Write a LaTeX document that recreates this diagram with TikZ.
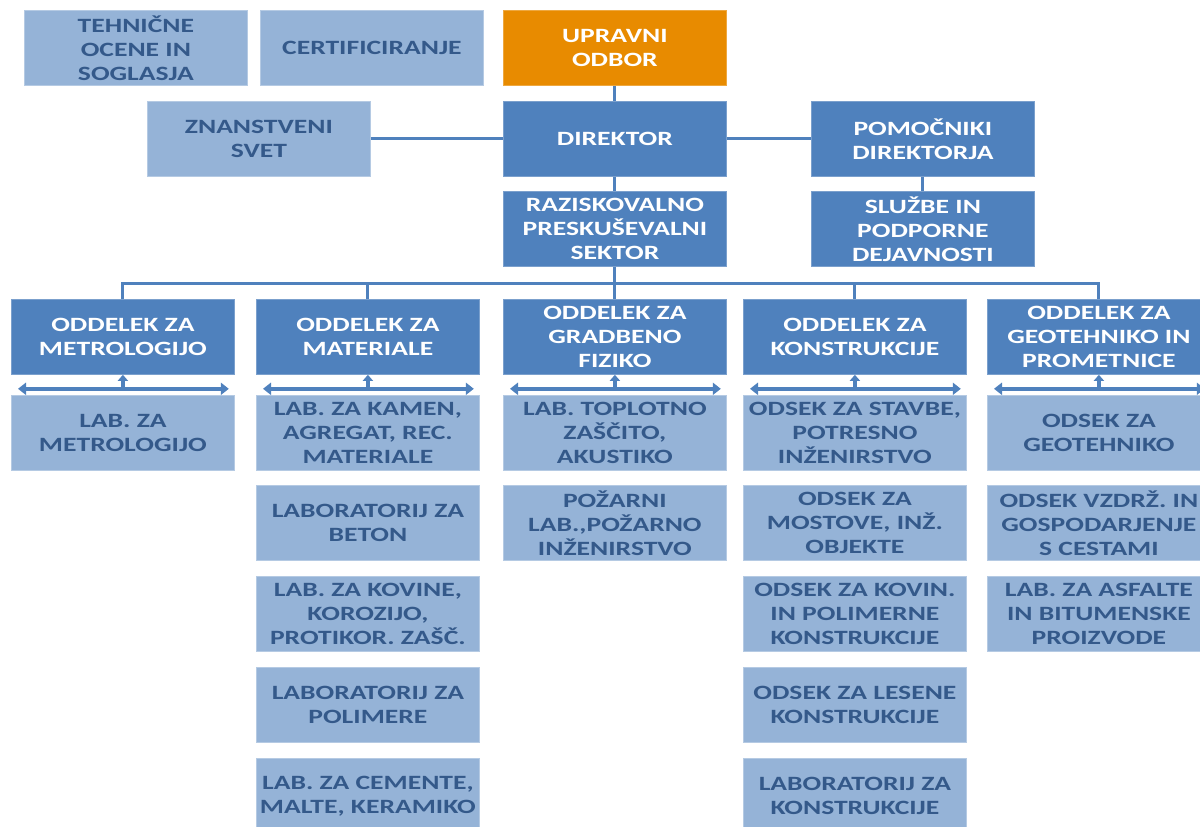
\documentclass[tikz,border=0pt]{standalone}
\usepackage{fontspec}
\setmainfont{Carlito}[FakeStretch=1.36]
\usetikzlibrary{arrows.meta}
\definecolor{dblue}{HTML}{4F81BD}
\definecolor{lblue}{HTML}{95B3D7}
\definecolor{tblue}{HTML}{34598A}
\definecolor{orng}{HTML}{E88B00}
\begin{document}
\begin{tikzpicture}[x=1pt,y=-1pt,
  boxbase/.style={rectangle, minimum width=223pt, minimum height=75pt, inner sep=0pt,
    align=center, anchor=north west, line width=0.8pt,
    font=\fontsize{20.3}{24}\selectfont\bfseries},
  dbox/.style={boxbase, fill=dblue, draw=dblue!75!white, text=white},
  lbox/.style={boxbase, fill=lblue, draw=lblue!70!white, text=tblue},
  obox/.style={boxbase, fill=orng, draw=orng!75!white, text=white},
  conn/.style={draw=dblue, line width=3pt, line join=miter},
  biarrow/.style={draw=dblue, line width=3.5pt, {Triangle[length=8pt,width=12pt]}-{Triangle[length=8pt,width=12pt]}},
  uparrow/.style={draw=dblue, line width=3.5pt, -{Triangle[length=6pt,width=10pt]}}]
\clip (0,0) rectangle (1200,827);
\fill[white] (0,0) rectangle (1200,827);
% top part
\node[lbox] (teh) at (24,10) {TEHNIČNE\\OCENE IN\\SOGLASJA};
\node[lbox] (cert) at (260,10) {CERTIFICIRANJE};
\node[obox] (uo) at (503,10) {UPRAVNI\\ODBOR};
\node[lbox] (zs) at (147,101) {ZNANSTVENI\\SVET};
\node[dbox] (dir) at (503,101) {DIREKTOR};
\node[dbox] (pom) at (811,101) {POMOČNIKI\\DIREKTORJA};
\node[dbox] (rps) at (503,191) {RAZISKOVALNO\\PRESKUŠEVALNI\\SEKTOR};
\node[dbox] (slu) at (811,191) {SLUŽBE IN\\PODPORNE\\DEJAVNOSTI};
% departments
\node[dbox] (d1) at (11,299) {ODDELEK ZA\\METROLOGIJO};
\node[dbox] (d2) at (256,299) {ODDELEK ZA\\MATERIALE};
\node[dbox] (d3) at (503,299) {ODDELEK ZA\\GRADBENO\\FIZIKO};
\node[dbox] (d4) at (743,299) {ODDELEK ZA\\KONSTRUKCIJE};
\node[dbox] (d5) at (987,299) {ODDELEK ZA\\GEOTEHNIKO IN\\PROMETNICE};
% labs column 1
\node[lbox] (l1) at (11,395) {LAB. ZA\\METROLOGIJO};
% column 2
\node[lbox] (l2) at (256,395) {LAB. ZA KAMEN,\\AGREGAT, REC.\\MATERIALE};
\node[lbox] (l2b) at (256,485) {LABORATORIJ ZA\\BETON};
\node[lbox] (l2c) at (256,576) {LAB. ZA KOVINE,\\KOROZIJO,\\PROTIKOR. ZAŠČ.};
\node[lbox] (l2d) at (256,667) {LABORATORIJ ZA\\POLIMERE};
\node[lbox] (l2e) at (256,758) {LAB. ZA CEMENTE,\\MALTE, KERAMIKO};
% column 3
\node[lbox] (l3) at (503,395) {LAB. TOPLOTNO\\ZAŠČITO,\\AKUSTIKO};
\node[lbox] (l3b) at (503,485) {POŽARNI\\LAB.,POŽARNO\\INŽENIRSTVO};
% column 4
\node[lbox] (l4) at (743,395) {ODSEK ZA STAVBE,\\POTRESNO\\INŽENIRSTVO};
\node[lbox] (l4b) at (743,485) {ODSEK ZA\\MOSTOVE, INŽ.\\OBJEKTE};
\node[lbox] (l4c) at (743,576) {ODSEK ZA KOVIN.\\IN POLIMERNE\\KONSTRUKCIJE};
\node[lbox] (l4d) at (743,667) {ODSEK ZA LESENE\\KONSTRUKCIJE};
\node[lbox] (l4e) at (743,758) {LABORATORIJ ZA\\KONSTRUKCIJE};
% column 5
\node[lbox] (l5) at (987,395) {ODSEK ZA\\GEOTEHNIKO};
\node[lbox] (l5b) at (987,485) {ODSEK VZDRŽ. IN\\GOSPODARJENJE\\S CESTAMI};
\node[lbox] (l5c) at (987,576) {LAB. ZA ASFALTE\\IN BITUMENSKE\\PROIZVODE};
% connectors
\draw[conn] (uo.south) -- (dir.north);
\draw[conn] (zs.east) -- (dir.west);
\draw[conn] (dir.east) -- (pom.west);
\draw[conn] (dir.south) -- (rps.north);
\draw[conn] (pom.south) -- (slu.north);
\coordinate (bus) at (0,283);
\draw[conn] (rps.south) -- (rps.south |- bus);
\draw[conn] (d1.north) -- (d1.north |- bus) -- (d5.north |- bus) -- (d5.north);
\foreach \d in {d2,d3,d4}{\draw[conn] (\d.north) -- (\d.north |- bus);}
% arrows under departments
\foreach \i in {1,...,5}{
  \path (d\i.south) ++(0,14) coordinate (a\i);
  \path (a\i -| l\i.west) ++(7,0) coordinate (a\i l);
  \path (a\i -| l\i.east) ++(-6,0) coordinate (a\i r);
  \draw[biarrow] (a\i l) -- (a\i r);
  \draw[uparrow] (a\i) -- (d\i.south);
}
\end{tikzpicture}
\end{document}
